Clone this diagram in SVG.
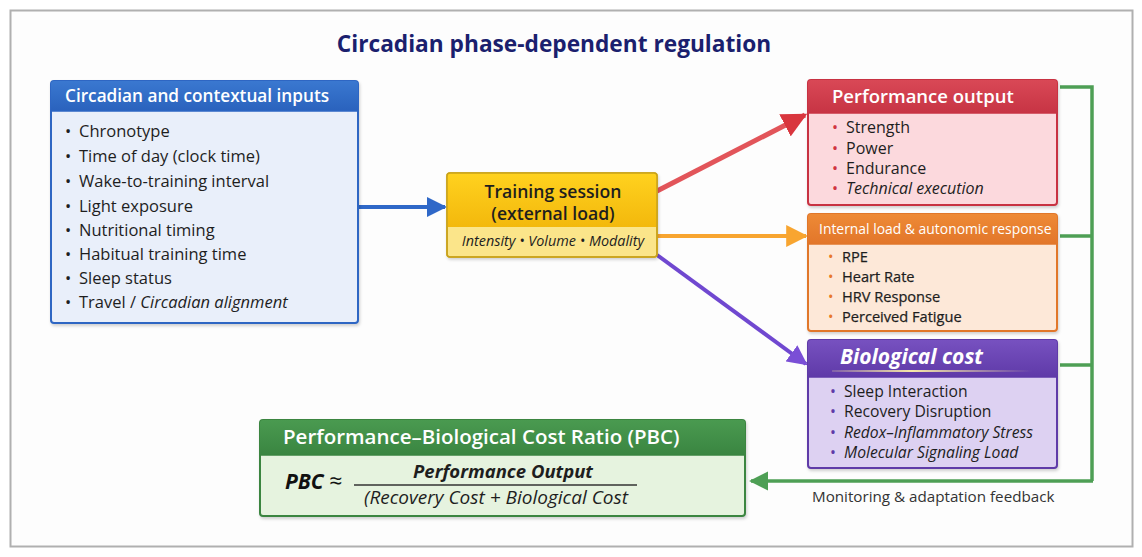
<svg xmlns="http://www.w3.org/2000/svg" width="1142" height="557" viewBox="0 0 1142 557">
<defs>
<style>
text{font-family:"Open Sans","Noto Sans",sans-serif;}
.title{font-size:22.7px;font-weight:bold;fill:#1b1f6e;}
.hd{font-weight:600;fill:#fff;}
.it{font-size:16.5px;fill:#1e1e1e;}
.em{font-style:italic;}
.fb{font-size:15.2px;fill:#333;}
</style>
<linearGradient id="gYel" x1="0" y1="0" x2="0" y2="1"><stop offset="0" stop-color="#ffd21f"/><stop offset="1" stop-color="#f3b80c"/></linearGradient>
<linearGradient id="gBlue" x1="0" y1="0" x2="0" y2="1"><stop offset="0" stop-color="#3a78d0"/><stop offset="1" stop-color="#2a62bd"/></linearGradient>
<linearGradient id="gRed" x1="0" y1="0" x2="0" y2="1"><stop offset="0" stop-color="#d94856"/><stop offset="1" stop-color="#c73444"/></linearGradient>
<linearGradient id="gOr" x1="0" y1="0" x2="0" y2="1"><stop offset="0" stop-color="#ee8a36"/><stop offset="1" stop-color="#e2762a"/></linearGradient>
<linearGradient id="gPu" x1="0" y1="0" x2="0" y2="1"><stop offset="0" stop-color="#7751c0"/><stop offset="1" stop-color="#5f3aa8"/></linearGradient>
<linearGradient id="gGr" x1="0" y1="0" x2="0" y2="1"><stop offset="0" stop-color="#4a9a50"/><stop offset="1" stop-color="#3a8541"/></linearGradient>
<linearGradient id="gLine" x1="0" y1="0" x2="1" y2="0"><stop offset="0" stop-color="#f5e7a0" stop-opacity="0.2"/><stop offset="0.4" stop-color="#f7e9a8"/><stop offset="1" stop-color="#f5e7a0" stop-opacity="0"/></linearGradient>
<filter id="sh" x="-5%" y="-5%" width="110%" height="115%"><feDropShadow dx="1" dy="2" stdDeviation="1.5" flood-color="#000" flood-opacity="0.18"/></filter>
<marker id="aBlue" viewBox="0 0 10 10" refX="9" refY="5" markerWidth="5" markerHeight="5" orient="auto"><path d="M0,0 L10,5 L0,10 z" fill="#2f68c8"/></marker>
<marker id="aRed" viewBox="0 0 10 10" refX="9" refY="5" markerWidth="5" markerHeight="5" orient="auto"><path d="M0,0 L10,5 L0,10 z" fill="#d9363e"/></marker>
<marker id="aOr" viewBox="0 0 10 10" refX="9" refY="5" markerWidth="5.5" markerHeight="5.5" orient="auto"><path d="M0,0 L10,5 L0,10 z" fill="#f8a530"/></marker>
<marker id="aPu" viewBox="0 0 10 10" refX="9" refY="5" markerWidth="5" markerHeight="5" orient="auto"><path d="M0,0 L10,5 L0,10 z" fill="#7a4fd6"/></marker>
<marker id="aGr" viewBox="0 0 10 10" refX="9" refY="5" markerWidth="5.5" markerHeight="5.5" orient="auto"><path d="M0,0 L10,5 L0,10 z" fill="#4e9f55"/></marker>
</defs>
<rect x="0" y="0" width="1142" height="557" fill="#ffffff"/>
<rect x="10.5" y="10.5" width="1122" height="536" fill="#fdfdfd" stroke="#b0b0b0" stroke-width="2"/>
<text class="title" x="554" y="52" text-anchor="middle">Circadian phase-dependent regulation</text>

<g id="connectors">
<line x1="358" y1="207" x2="445" y2="207" stroke="#2f68c8" stroke-width="4" marker-end="url(#aBlue)"/>
<line x1="657" y1="191" x2="805" y2="115" stroke="#e2555a" stroke-width="5" marker-end="url(#aRed)"/>
<line x1="657" y1="236" x2="806" y2="236" stroke="#f8a530" stroke-width="4" marker-end="url(#aOr)"/>
<line x1="657" y1="255" x2="806" y2="364" stroke="#7048d0" stroke-width="4" marker-end="url(#aPu)"/>
<polyline points="1060,87 1092,87 1092,481" fill="none" stroke="#4e9f55" stroke-width="3.5"/>
<line x1="1060" y1="236" x2="1092" y2="236" stroke="#4e9f55" stroke-width="3.5"/>
<line x1="1060" y1="365" x2="1092" y2="365" stroke="#4e9f55" stroke-width="3.5"/>
<line x1="1093" y1="481" x2="751" y2="481" stroke="#4e9f55" stroke-width="3.5" marker-end="url(#aGr)"/>
<text class="fb" x="812" y="502">Monitoring &amp; adaptation feedback</text>
</g>

<g id="inputs">
<rect x="51" y="81" width="307" height="242" rx="3" fill="#e9effa" stroke="#2d66c3" stroke-width="2" filter="url(#sh)"/>
<path d="M51,111 V84 a3,3 0 0 1 3,-3 H355 a3,3 0 0 1 3,3 V111 z" fill="url(#gBlue)"/>
<line x1="51" y1="111" x2="358" y2="111" stroke="#2d66c3" stroke-width="1.5"/>
<text class="hd" x="65" y="102" font-size="17.2">Circadian and contextual inputs</text>
<g class="it">
<text x="65" y="137">•</text><text x="79" y="137">Chronotype</text>
<text x="65" y="162">•</text><text x="79" y="162">Time of day (clock time)</text>
<text x="65" y="187">•</text><text x="79" y="187">Wake-to-training interval</text>
<text x="65" y="212">•</text><text x="79" y="212">Light exposure</text>
<text x="65" y="236">•</text><text x="79" y="236">Nutritional timing</text>
<text x="65" y="260">•</text><text x="79" y="260">Habitual training time</text>
<text x="65" y="284">•</text><text x="79" y="284">Sleep status</text>
<text x="65" y="308">•</text><text x="79" y="308">Travel / <tspan class="em">Circadian alignment</tspan></text>
</g>
</g>

<g id="training">
<rect x="447" y="173" width="210" height="84" rx="3" fill="#fbe58a" stroke="#c9a21a" stroke-width="1.5" filter="url(#sh)"/>
<path d="M447,227 V176 a3,3 0 0 1 3,-3 H654 a3,3 0 0 1 3,3 V227 z" fill="url(#gYel)"/>
<rect x="447" y="173" width="210" height="84" rx="3" fill="none" stroke="#c9a21a" stroke-width="1.5"/>
<text x="553" y="198" text-anchor="middle" font-size="17.6" font-weight="600" fill="#1e1e1e">Training session</text>
<text x="553" y="220" text-anchor="middle" font-size="17.6" font-weight="600" fill="#1e1e1e">(external load)</text>
<text x="553" y="246" text-anchor="middle" font-size="14.4" font-style="italic" fill="#1e1e1e">Intensity • Volume • Modality</text>
</g>

<g id="performance">
<rect x="808" y="80" width="249" height="125" rx="3" fill="#fcd9dd" stroke="#c83343" stroke-width="2" filter="url(#sh)"/>
<path d="M808,113 V83 a3,3 0 0 1 3,-3 H1054 a3,3 0 0 1 3,3 V113 z" fill="url(#gRed)"/>
<line x1="808" y1="113" x2="1057" y2="113" stroke="#c83343" stroke-width="1.5"/>
<text class="hd" x="832" y="103" font-size="18.5">Performance output</text>
<g font-size="16" fill="#1e1e1e">
<text x="832" y="133" fill="#d0343f">•</text><text x="846" y="133">Strength</text>
<text x="832" y="154" fill="#d0343f">•</text><text x="846" y="154">Power</text>
<text x="832" y="174" fill="#d0343f">•</text><text x="846" y="174">Endurance</text>
<text x="832" y="194" fill="#d0343f">•</text><text x="846" y="194" class="em">Technical execution</text>
</g>
</g>

<g id="internal">
<rect x="808" y="214" width="249" height="117" rx="3" fill="#fde8d8" stroke="#e1772b" stroke-width="2" filter="url(#sh)"/>
<path d="M808,244 V217 a3,3 0 0 1 3,-3 H1054 a3,3 0 0 1 3,3 V244 z" fill="url(#gOr)"/>
<line x1="808" y1="244" x2="1057" y2="244" stroke="#e1772b" stroke-width="1.5"/>
<text x="819" y="234" font-size="13.9" font-weight="500" fill="#fff">Internal load &amp; autonomic response</text>
<g font-size="14.6" fill="#1e1e1e" stroke="#1e1e1e" stroke-width="0.25">
<text x="828" y="262" fill="#e8792b" stroke="none">•</text><text x="842" y="262">RPE</text>
<text x="828" y="282" fill="#e8792b" stroke="none">•</text><text x="842" y="282">Heart Rate</text>
<text x="828" y="302" fill="#e8792b" stroke="none">•</text><text x="842" y="302">HRV Response</text>
<text x="828" y="322" fill="#e8792b" stroke="none">•</text><text x="842" y="322">Perceived Fatigue</text>
</g>
</g>

<g id="biological">
<rect x="808" y="340" width="249" height="128" rx="3" fill="#ddd1f2" stroke="#5e3aa8" stroke-width="2" filter="url(#sh)"/>
<path d="M808,377 V343 a3,3 0 0 1 3,-3 H1054 a3,3 0 0 1 3,3 V377 z" fill="url(#gPu)"/>
<line x1="808" y1="377" x2="1057" y2="377" stroke="#5e3aa8" stroke-width="1.5"/>
<rect x="832" y="370" width="200" height="2" fill="url(#gLine)"/>
<text x="840" y="364" font-size="21" font-weight="bold" font-style="italic" fill="#fff">Biological cost</text>
<g font-size="15.7" fill="#1e1e1e">
<text x="830" y="397" fill="#5e3aa8">•</text><text x="844" y="397">Sleep Interaction</text>
<text x="830" y="417" fill="#5e3aa8">•</text><text x="844" y="417">Recovery Disruption</text>
<text x="830" y="438" fill="#5e3aa8">•</text><text x="844" y="438" class="em">Redox–Inflammatory Stress</text>
<text x="830" y="458" fill="#5e3aa8">•</text><text x="844" y="458" class="em">Molecular Signaling Load</text>
</g>
</g>

<g id="pbc">
<rect x="260" y="420" width="485" height="96" rx="3" fill="#e6f3df" stroke="#3a8541" stroke-width="2" filter="url(#sh)"/>
<path d="M260,455 V423 a3,3 0 0 1 3,-3 H742 a3,3 0 0 1 3,3 V455 z" fill="url(#gGr)"/>
<line x1="260" y1="455" x2="745" y2="455" stroke="#3a8541" stroke-width="1.5"/>
<text class="hd" x="283" y="444" font-size="20.5">Performance–Biological Cost Ratio (PBC)</text>
<text x="285" y="489" font-size="21" font-weight="bold" font-style="italic" fill="#111">PBC <tspan font-weight="normal" font-style="normal" font-size="23">≈</tspan></text>
<line x1="354" y1="485" x2="637" y2="485" stroke="#333" stroke-width="1.3"/>
<text x="503" y="478" text-anchor="middle" font-size="18.5" font-weight="bold" font-style="italic" fill="#1e1e1e">Performance Output</text>
<text x="364" y="504" font-size="19" font-style="italic" fill="#1e1e1e">(Recovery Cost + Biological Cost</text>
</g>
</svg>
